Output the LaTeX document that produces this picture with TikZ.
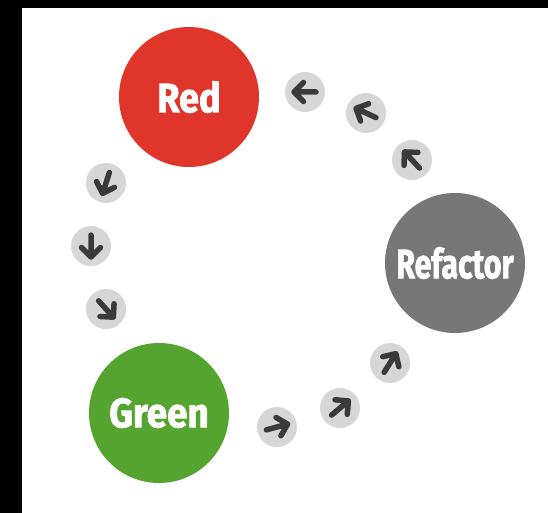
\documentclass[tikz,border=0pt]{standalone}
\usepackage{fontspec}
\newfontfamily\lblfont{Fira Sans}[BoldFeatures={FakeBold=2}]
\definecolor{redc}{HTML}{E0352A}
\definecolor{greenc}{HTML}{55A430}
\definecolor{grayc}{HTML}{777777}
\definecolor{dotc}{HTML}{D6D6D6}
\definecolor{arrc}{HTML}{3A3A3A}
\tikzset{
  bigc/.style={circle, minimum size=140pt, inner sep=0pt, text=white,
    font=\lblfont\bfseries\fontsize{41}{41}\selectfont},
  dotc/.style={circle, fill=dotc, minimum size=40pt, inner sep=0pt},
  pics/arrowicon/.style={code={
    \draw[arrc, line width=5.5pt, line cap=round, line join=round]
      (-11,0) -- (11,0) (1.5,-9.5) -- (11,0) -- (1.5,9.5);
  }}
}
\begin{document}
\begin{tikzpicture}[x=1pt,y=-1pt]
\fill[black] (0,0) rectangle (548,513);
\fill[white] (22,8) rectangle (548,513);
\useasboundingbox (0,0) rectangle (548,513);
\node[bigc, fill=redc] (red) at (189,97) {\scalebox{0.88}[1]{Red}};
\node[bigc, fill=greenc] (green) at (159,413) {\scalebox{0.9}[1]{Green}};
\node[bigc, fill=grayc] (refactor) at (455,263) {\scalebox{0.74}[1]{Refactor}};
% small arrow dots: name, position, direction (math angle, y up)
\foreach \n/\x/\y/\a in {s1/305/92/180, s2/366/113/155, s3/412/160/133,
  s4/106/183/-108, s5/91/246/-90, s6/106/309/-48,
  s7/277/427/15, s8/340/408/40, s9/390/363/58}{
  \node[dotc] (\n) at (\x,\y) {};
  \pic[rotate=\a] at (\n.center) {arrowicon};
}
\end{tikzpicture}
\end{document}
